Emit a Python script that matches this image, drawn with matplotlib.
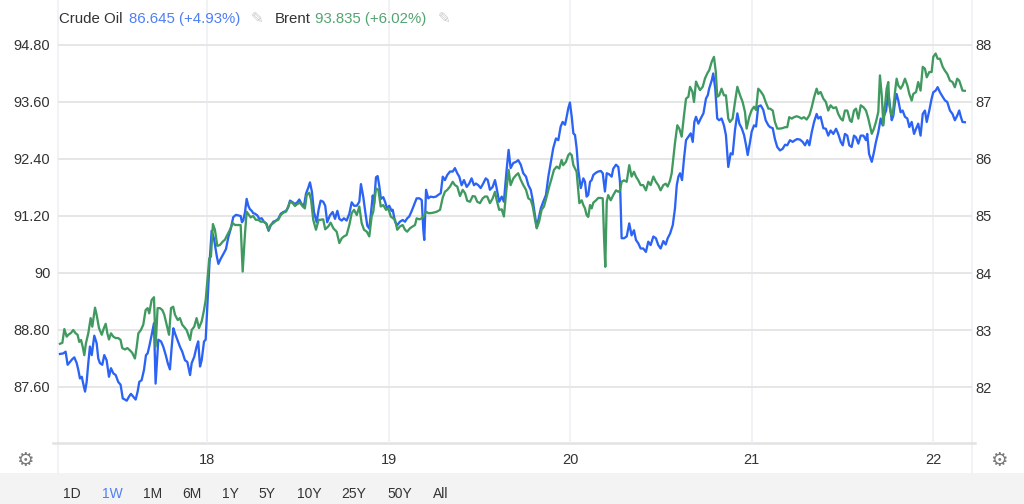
import matplotlib
matplotlib.use("Agg")
import matplotlib.pyplot as plt
from matplotlib.lines import Line2D
from matplotlib.patches import Rectangle

plt.rcParams['font.family'] = ['Liberation Sans', 'DejaVu Sans']

# ---------------- data (day of month, price) ----------------
brent_points = [
    (17.187, 88.51), (17.200, 88.53), (17.211, 88.82), (17.224, 88.66), (17.233, 88.70), (17.248, 88.74), (17.260, 88.80), (17.273, 88.73), (17.284, 88.70), (17.293, 88.55),
    (17.303, 88.59), (17.312, 88.45), (17.321, 88.27), (17.330, 88.52), (17.343, 88.73), (17.356, 89.05), (17.365, 88.87), (17.380, 89.27), (17.389, 89.12), (17.402, 88.84),
    (17.417, 88.70), (17.429, 88.84), (17.439, 88.93), (17.448, 88.73), (17.457, 88.60), (17.468, 88.73), (17.481, 88.66), (17.494, 88.63), (17.508, 88.63), (17.521, 88.59),
    (17.530, 88.42), (17.545, 88.39), (17.558, 88.42), (17.573, 88.37), (17.585, 88.32), (17.600, 88.20), (17.610, 88.45), (17.619, 88.73), (17.633, 88.80), (17.646, 88.91),
    (17.659, 89.22), (17.670, 89.26), (17.679, 89.15), (17.692, 89.43), (17.705, 89.49), (17.714, 88.45), (17.725, 89.26), (17.738, 89.26), (17.751, 89.22), (17.762, 89.12),
    (17.775, 88.91), (17.788, 88.70), (17.799, 89.26), (17.811, 89.29), (17.821, 89.12), (17.836, 89.01), (17.848, 89.05), (17.861, 88.91), (17.876, 88.84), (17.885, 88.80),
    (17.894, 88.70), (17.904, 88.59), (17.913, 88.80), (17.927, 88.87), (17.940, 89.05), (17.953, 88.84), (17.968, 88.98), (17.981, 89.22), (17.990, 89.43), (18.001, 89.92),
    (18.010, 90.31), (18.019, 90.34), (18.030, 91.03),
    (18.041, 90.91), (18.054, 90.57), (18.069, 90.59), (18.084, 90.66), (18.096, 90.70), (18.109, 90.80), (18.124, 90.91), (18.139, 91.05), (18.152, 91.01), (18.170, 91.01),
    (18.183, 91.01), (18.194, 90.03), (18.207, 90.84), (18.216, 91.29), (18.225, 91.24), (18.238, 91.17), (18.252, 91.20), (18.266, 91.12), (18.280, 91.12), (18.293, 91.08),
    (18.308, 91.08), (18.322, 91.05), (18.335, 90.91), (18.348, 91.01), (18.363, 91.05), (18.378, 91.10), (18.390, 91.12), (18.404, 91.22), (18.418, 91.27), (18.433, 91.29),
    (18.445, 91.40), (18.455, 91.50), (18.470, 91.47), (18.482, 91.41), (18.495, 91.45), (18.510, 91.48), (18.525, 91.40), (18.537, 91.36), (18.547, 91.64), (18.561, 91.69),
    (18.571, 91.54), (18.583, 91.12), (18.598, 90.91), (18.613, 91.12), (18.624, 91.12), (18.638, 91.13), (18.649, 90.92), (18.666, 90.98), (18.679, 91.06), (18.694, 90.94),
    (18.712, 90.87), (18.727, 90.63), (18.740, 90.73), (18.752, 90.77), (18.767, 90.80), (18.782, 91.01), (18.795, 91.26), (18.808, 91.33), (18.823, 91.22), (18.837, 91.40),
    (18.850, 91.05), (18.863, 90.91), (18.878, 90.87), (18.892, 90.77), (18.905, 91.19), (18.914, 91.29), (18.929, 91.78), (18.942, 91.75), (18.955, 91.40), (18.969, 91.43),
    (18.984, 91.33), (18.997, 91.36), (19.010, 91.19), (19.024, 91.15),
    (19.034, 91.12), (19.046, 90.91), (19.061, 90.98), (19.076, 91.01), (19.089, 90.91), (19.101, 90.87), (19.116, 90.94), (19.131, 90.98), (19.144, 91.01), (19.153, 91.15),
    (19.168, 91.13), (19.181, 91.15), (19.193, 91.20), (19.205, 91.29), (19.217, 91.26), (19.230, 91.26), (19.245, 91.27), (19.264, 91.29), (19.282, 91.33), (19.297, 91.59),
    (19.309, 91.71), (19.322, 91.75), (19.337, 91.82), (19.352, 91.92), (19.364, 91.85), (19.377, 91.82), (19.392, 91.62), (19.407, 91.75), (19.420, 91.68), (19.432, 91.52),
    (19.447, 91.50), (19.462, 91.62), (19.475, 91.61), (19.487, 91.50), (19.502, 91.47), (19.517, 91.57), (19.530, 91.61), (19.542, 91.61), (19.557, 91.47), (19.572, 91.57),
    (19.585, 91.71), (19.594, 91.54), (19.608, 91.33), (19.622, 91.34), (19.634, 91.19), (19.646, 91.68), (19.660, 92.17), (19.671, 91.85), (19.686, 91.99), (19.701, 92.06),
    (19.713, 92.10), (19.727, 91.96), (19.741, 91.85), (19.756, 91.75), (19.769, 91.57), (19.782, 91.54), (19.793, 91.40), (19.806, 91.12), (19.815, 90.94), (19.828, 91.08),
    (19.842, 91.33), (19.855, 91.40), (19.870, 91.61), (19.884, 91.82), (19.897, 91.99), (19.910, 92.17), (19.925, 92.24), (19.939, 92.20), (19.952, 92.38), (19.961, 92.27),
    (19.976, 92.34), (19.989, 92.48), (19.998, 92.52), (20.008, 92.48), (20.017, 92.27), (20.026, 92.20), (20.035, 92.13), (20.050, 91.47),
    (20.063, 91.53), (20.072, 91.43), (20.081, 91.36), (20.090, 91.22), (20.099, 91.18), (20.109, 91.43), (20.118, 91.36), (20.127, 91.48), (20.142, 91.53), (20.154, 91.58),
    (20.168, 91.58), (20.179, 91.57), (20.187, 90.66), (20.193, 90.13), (20.201, 91.50), (20.209, 91.64), (20.223, 91.53), (20.237, 91.64), (20.252, 91.74), (20.265, 91.71),
    (20.274, 91.74), (20.283, 91.92), (20.296, 91.95), (20.311, 91.92), (20.325, 92.27), (20.338, 92.03), (20.351, 92.13), (20.362, 92.03), (20.375, 91.95), (20.388, 91.85),
    (20.402, 91.85), (20.417, 91.74), (20.430, 91.92), (20.443, 91.85), (20.458, 92.03), (20.472, 91.92), (20.485, 91.85), (20.498, 91.74), (20.513, 91.85), (20.526, 91.88),
    (20.537, 91.82), (20.550, 91.95), (20.559, 92.10), (20.568, 92.41), (20.577, 92.73), (20.590, 93.11), (20.601, 93.04), (20.614, 92.87), (20.627, 93.32), (20.638, 93.67),
    (20.651, 93.71), (20.660, 93.92), (20.673, 93.82), (20.682, 93.60), (20.693, 94.03), (20.702, 93.95), (20.715, 93.85), (20.730, 93.92), (20.743, 94.10), (20.755, 94.20),
    (20.766, 94.27), (20.780, 94.45), (20.792, 94.55), (20.802, 94.24), (20.810, 93.71), (20.821, 93.74), (20.834, 93.88), (20.847, 93.74), (20.858, 93.74), (20.871, 93.25),
    (20.880, 93.18), (20.895, 93.25), (20.908, 93.60), (20.921, 93.92), (20.936, 93.74), (20.950, 93.60), (20.963, 93.39), (20.972, 93.04), (20.987, 93.29), (21.000, 93.43),
    (21.013, 93.50), (21.024, 93.43), (21.036, 93.88), (21.050, 93.82), (21.064, 93.74), (21.077, 93.60), (21.092, 93.46),
    (21.101, 93.46), (21.116, 93.42), (21.128, 93.18), (21.141, 93.04), (21.156, 93.04), (21.171, 93.05), (21.184, 93.07), (21.196, 93.07), (21.207, 93.28), (21.221, 93.25),
    (21.233, 93.28), (21.248, 93.30), (21.262, 93.28), (21.275, 93.25), (21.288, 93.28), (21.303, 93.23), (21.318, 93.32), (21.331, 93.49), (21.344, 93.70), (21.358, 93.88),
    (21.367, 93.77), (21.380, 93.81), (21.395, 93.67), (21.409, 93.60), (21.422, 93.42), (21.435, 93.53), (21.450, 93.47), (21.465, 93.49), (21.477, 93.35), (21.491, 93.25),
    (21.502, 93.21), (21.514, 93.42), (21.527, 93.42), (21.542, 93.21), (21.551, 93.18), (21.564, 93.42), (21.575, 93.46), (21.588, 93.25), (21.601, 93.53), (21.616, 93.49),
    (21.630, 93.42), (21.643, 93.25), (21.662, 92.93), (21.674, 93.04), (21.685, 93.18), (21.698, 93.39), (21.707, 94.16), (21.717, 93.74), (21.726, 93.11), (21.735, 93.53),
    (21.744, 93.88), (21.753, 94.02), (21.759, 93.53), (21.768, 93.35), (21.777, 93.32), (21.790, 93.81), (21.799, 94.09), (21.808, 93.95), (21.821, 93.88), (21.832, 93.95),
    (21.845, 94.09), (21.858, 93.95), (21.869, 93.77), (21.882, 93.63), (21.891, 93.77), (21.906, 93.81), (21.918, 94.02), (21.931, 93.84), (21.943, 94.34), (21.955, 94.30),
    (21.965, 94.12), (21.979, 94.23), (21.992, 94.23), (22.001, 94.55), (22.014, 94.62), (22.025, 94.51), (22.038, 94.51), (22.053, 94.34), (22.065, 94.26), (22.078, 94.19),
    (22.093, 94.05), (22.107, 94.02), (22.120, 93.91), (22.133, 94.09), (22.144, 94.05), (22.153, 93.95), (22.162, 93.84), (22.175, 93.835),
]

crude_points = [
    (17.187, 82.58), (17.205, 82.59), (17.218, 82.62), (17.229, 82.39), (17.242, 82.44), (17.255, 82.49), (17.266, 82.52), (17.279, 82.42), (17.288, 82.30), (17.297, 82.15),
    (17.307, 82.18), (17.315, 82.06), (17.325, 81.92), (17.334, 82.09), (17.343, 82.42), (17.352, 82.71), (17.362, 82.56), (17.376, 82.90), (17.389, 82.77), (17.398, 82.50),
    (17.407, 82.42), (17.420, 82.39), (17.431, 82.56), (17.444, 82.47), (17.457, 82.18), (17.468, 82.33), (17.481, 82.24), (17.494, 82.21), (17.508, 82.09), (17.521, 82.04),
    (17.533, 81.80), (17.545, 81.78), (17.555, 81.76), (17.567, 81.83), (17.578, 81.88), (17.591, 81.83), (17.604, 81.78), (17.615, 81.92), (17.624, 82.09), (17.637, 82.12),
    (17.650, 82.30), (17.661, 82.56), (17.670, 82.59), (17.679, 82.71), (17.692, 82.91), (17.705, 83.12), (17.714, 82.06), (17.729, 82.83), (17.744, 82.80), (17.756, 82.71),
    (17.770, 82.56), (17.781, 82.42), (17.793, 82.31), (17.803, 82.71), (17.812, 83.03), (17.821, 82.94), (17.834, 82.83), (17.848, 82.71), (17.861, 82.62), (17.876, 82.47),
    (17.889, 82.44), (17.904, 82.21), (17.913, 82.42), (17.927, 82.53), (17.940, 82.71), (17.949, 82.80), (17.959, 82.36), (17.968, 82.47), (17.981, 82.80), (17.990, 82.83),
    (18.001, 83.53), (18.010, 84.11),
    (18.023, 84.74), (18.036, 84.60), (18.051, 84.30), (18.060, 84.16), (18.073, 84.25), (18.087, 84.33), (18.102, 84.42), (18.115, 84.63), (18.128, 84.77), (18.142, 84.98),
    (18.157, 85.02), (18.170, 85.01), (18.183, 85.00), (18.190, 84.89), (18.197, 84.92), (18.207, 85.07), (18.216, 85.30), (18.225, 85.18), (18.234, 85.12), (18.244, 85.09),
    (18.252, 85.05), (18.262, 85.04), (18.275, 85.01), (18.286, 84.95), (18.299, 84.96), (18.311, 84.90), (18.326, 84.86), (18.337, 84.74), (18.348, 84.83), (18.363, 84.90),
    (18.378, 84.92), (18.390, 84.95), (18.404, 85.04), (18.418, 85.07), (18.433, 85.09), (18.445, 85.15), (18.455, 85.27), (18.470, 85.24), (18.482, 85.21), (18.495, 85.24),
    (18.506, 85.29), (18.519, 85.21), (18.532, 85.18), (18.543, 85.39), (18.556, 85.50), (18.565, 85.59), (18.576, 85.42), (18.587, 85.07), (18.602, 84.89), (18.613, 85.12),
    (18.624, 85.27), (18.638, 85.25), (18.649, 85.18), (18.660, 84.89), (18.675, 85.01), (18.690, 85.07), (18.703, 84.95), (18.716, 85.09), (18.727, 84.95), (18.740, 84.92),
    (18.752, 84.96), (18.767, 84.92), (18.782, 85.04), (18.795, 85.24), (18.808, 85.18), (18.823, 85.18), (18.837, 85.25), (18.846, 85.56), (18.859, 85.33), (18.870, 85.07),
    (18.881, 84.83), (18.892, 84.78), (18.900, 85.01), (18.911, 85.36), (18.918, 85.21), (18.929, 85.68), (18.938, 85.70), (18.947, 85.53), (18.956, 85.30), (18.969, 85.33),
    (18.980, 85.24), (18.991, 85.12), (19.002, 85.18), (19.015, 85.09),
    (19.021, 85.11), (19.034, 84.90), (19.046, 84.84), (19.061, 84.90), (19.076, 84.93), (19.089, 84.90), (19.101, 84.96), (19.112, 84.99), (19.126, 85.09), (19.138, 85.19),
    (19.153, 85.31), (19.168, 85.31), (19.181, 85.28), (19.190, 84.75), (19.195, 84.58), (19.205, 85.46), (19.217, 85.31), (19.230, 85.34), (19.245, 85.33), (19.260, 85.34),
    (19.272, 85.37), (19.286, 85.40), (19.297, 85.69), (19.309, 85.63), (19.322, 85.72), (19.337, 85.78), (19.352, 85.78), (19.364, 85.84), (19.377, 85.75), (19.388, 85.69),
    (19.401, 85.54), (19.414, 85.63), (19.429, 85.51), (19.443, 85.57), (19.456, 85.66), (19.469, 85.54), (19.480, 85.57), (19.493, 85.54), (19.506, 85.49), (19.520, 85.57),
    (19.534, 85.66), (19.545, 85.63), (19.557, 85.46), (19.572, 85.51), (19.585, 85.63), (19.594, 85.49), (19.608, 85.25), (19.622, 85.34), (19.634, 85.25), (19.649, 85.81),
    (19.660, 86.16), (19.671, 85.84), (19.686, 85.93), (19.701, 85.95), (19.713, 85.98), (19.727, 85.90), (19.741, 85.75), (19.756, 85.69), (19.769, 85.54), (19.782, 85.46),
    (19.793, 85.28), (19.806, 84.99), (19.815, 84.80), (19.824, 84.93), (19.838, 85.14), (19.851, 85.25), (19.866, 85.37), (19.879, 85.69), (19.892, 85.93), (19.906, 86.19),
    (19.921, 86.36), (19.934, 86.33), (19.947, 86.57), (19.958, 86.65), (19.971, 86.60), (19.980, 86.74), (19.989, 86.89), (19.998, 86.99), (20.008, 86.74), (20.017, 86.45),
    (20.026, 86.42), (20.035, 86.19), (20.044, 85.81), (20.058, 85.49),
    (20.072, 85.66), (20.081, 85.60), (20.090, 85.34), (20.099, 85.37), (20.109, 85.60), (20.118, 85.63), (20.127, 85.72), (20.142, 85.76), (20.154, 85.78), (20.168, 85.79),
    (20.179, 85.75), (20.191, 85.43), (20.201, 85.75), (20.215, 85.73), (20.228, 85.69), (20.237, 85.83), (20.252, 85.90), (20.265, 85.86), (20.274, 85.60), (20.283, 84.61),
    (20.296, 84.61), (20.311, 84.64), (20.325, 84.87), (20.338, 84.66), (20.351, 84.75), (20.362, 84.58), (20.375, 84.52), (20.388, 84.43), (20.402, 84.43), (20.417, 84.37),
    (20.430, 84.55), (20.443, 84.49), (20.458, 84.64), (20.472, 84.61), (20.485, 84.49), (20.498, 84.43), (20.513, 84.56), (20.526, 84.50), (20.537, 84.61), (20.550, 84.69),
    (20.565, 84.84), (20.577, 85.13), (20.587, 85.54), (20.596, 85.69), (20.605, 85.75), (20.616, 85.63), (20.627, 86.01), (20.638, 86.33), (20.651, 86.39), (20.664, 86.45),
    (20.675, 86.30), (20.684, 86.65), (20.693, 86.74), (20.706, 86.62), (20.719, 86.71), (20.734, 86.80), (20.748, 87.06), (20.758, 87.12), (20.766, 87.24), (20.780, 87.38),
    (20.788, 87.50), (20.799, 87.24), (20.810, 86.71), (20.821, 86.68), (20.834, 86.71), (20.847, 86.59), (20.858, 86.42), (20.871, 85.86), (20.884, 86.10), (20.895, 86.08),
    (20.908, 86.51), (20.921, 86.80), (20.932, 86.62), (20.945, 86.54), (20.958, 86.42), (20.969, 86.24), (20.978, 86.07), (20.991, 86.30), (21.000, 86.48), (21.013, 86.59),
    (21.024, 86.57), (21.036, 86.92), (21.050, 86.94), (21.064, 86.86), (21.077, 86.68), (21.092, 86.59),
    (21.101, 86.56), (21.116, 86.54), (21.128, 86.35), (21.141, 86.21), (21.156, 86.15), (21.171, 86.18), (21.184, 86.25), (21.196, 86.24), (21.211, 86.33), (21.226, 86.30),
    (21.239, 86.33), (21.251, 86.35), (21.266, 86.34), (21.281, 86.30), (21.294, 86.24), (21.307, 86.33), (21.318, 86.24), (21.331, 86.47), (21.344, 86.65), (21.358, 86.79),
    (21.367, 86.71), (21.380, 86.74), (21.395, 86.54), (21.409, 86.53), (21.422, 86.41), (21.435, 86.50), (21.450, 86.44), (21.465, 86.53), (21.477, 86.44), (21.491, 86.30),
    (21.502, 86.24), (21.514, 86.44), (21.527, 86.41), (21.538, 86.24), (21.551, 86.21), (21.564, 86.41), (21.575, 86.38), (21.588, 86.27), (21.601, 86.41), (21.616, 86.41),
    (21.630, 86.33), (21.637, 86.44), (21.647, 86.09), (21.662, 85.95), (21.674, 86.12), (21.685, 86.30), (21.698, 86.47), (21.711, 86.71), (21.722, 86.59), (21.730, 86.76),
    (21.741, 86.85), (21.753, 87.17), (21.762, 86.94), (21.772, 86.68), (21.781, 86.76), (21.790, 87.00), (21.799, 87.14), (21.808, 87.03), (21.821, 86.82), (21.832, 86.85),
    (21.845, 86.74), (21.858, 86.71), (21.869, 86.56), (21.882, 86.65), (21.895, 86.44), (21.906, 86.53), (21.918, 86.62), (21.931, 86.41), (21.943, 86.79), (21.955, 86.85),
    (21.965, 86.65), (21.979, 86.85), (21.992, 87.06), (22.001, 87.17), (22.014, 87.20), (22.025, 87.26), (22.038, 87.17), (22.053, 87.09), (22.065, 87.03), (22.078, 87.00),
    (22.093, 86.85), (22.107, 86.79), (22.120, 86.68), (22.133, 86.76), (22.144, 86.85), (22.153, 86.74), (22.162, 86.65), (22.175, 86.645),
]

day_ticks = [18, 19, 20, 21, 22]
day_labels = ["18", "19", "20", "21", "22"]
left_ticks = [87.6, 88.8, 90.0, 91.2, 92.4, 93.6, 94.8]
left_labels = ["87.60", "88.80", "90", "91.20", "92.40", "93.60", "94.80"]
right_ticks = [82, 83, 84, 85, 86, 87, 88]
right_labels = ["82", "83", "84", "85", "86", "87", "88"]
range_buttons = ["1D", "1W", "1M", "6M", "1Y", "5Y", "10Y", "25Y", "50Y", "All"]
legend_items = [("Crude Oil", "86.645 (+4.93%)"), ("Brent", "93.835 (+6.02%)")]

# ---------------- styling ----------------
BLUE = "#2b63f5"
GREEN = "#409a60"
BLUE_TXT = "#4f7ff7"
GREEN_TXT = "#52a571"
TXT = "#333333"
GRID = "#e6e6e6"
VGRID = "#edf0f5"

W, H = 1024, 504
fig = plt.figure(figsize=(W / 100, H / 100), dpi=100)
fig.patch.set_facecolor("white")


def fx(px):
    return px / W


def fy(py):
    return 1 - py / H


# button bar background
fig.add_artist(Rectangle((0, 0), 1, fy(473), transform=fig.transFigure,
                         facecolor="#f3f3f3", edgecolor="none", zorder=0))

ax = fig.add_axes([fx(58), fy(443), fx(972) - fx(58), fy(0) - fy(443)])
ax2 = ax.twinx()
ax.set_zorder(2)
ax2.set_zorder(1)
ax.patch.set_visible(False)

bt = [p[0] for p in brent_points]
bv = [p[1] for p in brent_points]
ct = [p[0] for p in crude_points]
cv = [p[1] for p in crude_points]

ax.plot(bt, bv, color=GREEN, lw=1.65, solid_joinstyle="round")
ax2.plot(ct, cv, color=BLUE, lw=1.65, solid_joinstyle="round")

ax.set_xlim(17.176, 22.2145)
ax.set_ylim(86.421, 95.747)
ax2.set_ylim(81.018, 88.789)

ax.set_xticks(day_ticks, labels=day_labels)
ax.set_yticks(left_ticks, labels=left_labels)
ax2.set_yticks(right_ticks, labels=right_labels)

ax.tick_params(axis="x", length=0, pad=7, labelsize=10.5, labelcolor=TXT)
ax.tick_params(axis="y", length=0, pad=5.5, labelsize=10.5, labelcolor=TXT)
ax2.tick_params(axis="y", length=0, pad=2.5, labelsize=10.5, labelcolor=TXT)

# grid on the lower (right-axis) axes so both lines sit above it
ax2.xaxis.set_visible(True)
ax2.tick_params(axis="x", length=0, labelbottom=False, labeltop=False)
ax2.grid(True, axis="y", color=GRID, lw=1.4)
ax2.grid(True, axis="x", color=VGRID, lw=1.2)

for a in (ax, ax2):
    for s in a.spines.values():
        s.set_visible(False)

# frame lines
fig.add_artist(Line2D([fx(58), fx(58)], [fy(0), fy(473)], transform=fig.transFigure,
                      color=VGRID, lw=1.2, zorder=1))
fig.add_artist(Line2D([fx(972), fx(972)], [fy(0), fy(473)], transform=fig.transFigure,
                      color=VGRID, lw=1.2, zorder=1))
fig.add_artist(Line2D([fx(53), fx(975)], [fy(443), fy(443)], transform=fig.transFigure,
                      color="#e2e2e2", lw=1.8, zorder=1))

# legend line at top
fs_leg = 10.8
ly = fy(19)
fig.text(fx(59), ly, legend_items[0][0], color=TXT, fontsize=fs_leg, ha="left", va="center")
fig.text(fx(129), ly, legend_items[0][1], color=BLUE_TXT, fontsize=fs_leg, ha="left", va="center")
fig.text(fx(251), ly, "\u270e", color="#c9c9c9", fontsize=11, ha="left", va="center")
fig.text(fx(275), ly, legend_items[1][0], color=TXT, fontsize=fs_leg, ha="left", va="center")
fig.text(fx(315), ly, legend_items[1][1], color=GREEN_TXT, fontsize=fs_leg, ha="left", va="center")
fig.text(fx(438), ly, "\u270e", color="#c9c9c9", fontsize=11, ha="left", va="center")

# gear icons
fig.text(fx(25), fy(461), "\u2699", color="#7a7a7a", fontsize=14, ha="center", va="center")
fig.text(fx(999), fy(461), "\u2699", color="#7a7a7a", fontsize=14, ha="center", va="center")

# range buttons
btn_x = [72, 112, 153, 192, 230, 267, 309, 354, 400, 441]
for lab, bx in zip(range_buttons, btn_x):
    fig.text(fx(bx), fy(494), lab, color=(BLUE_TXT if lab == "1W" else TXT),
             fontsize=10, ha="center", va="center")

fig.savefig("out.png", dpi=100, facecolor="white")
